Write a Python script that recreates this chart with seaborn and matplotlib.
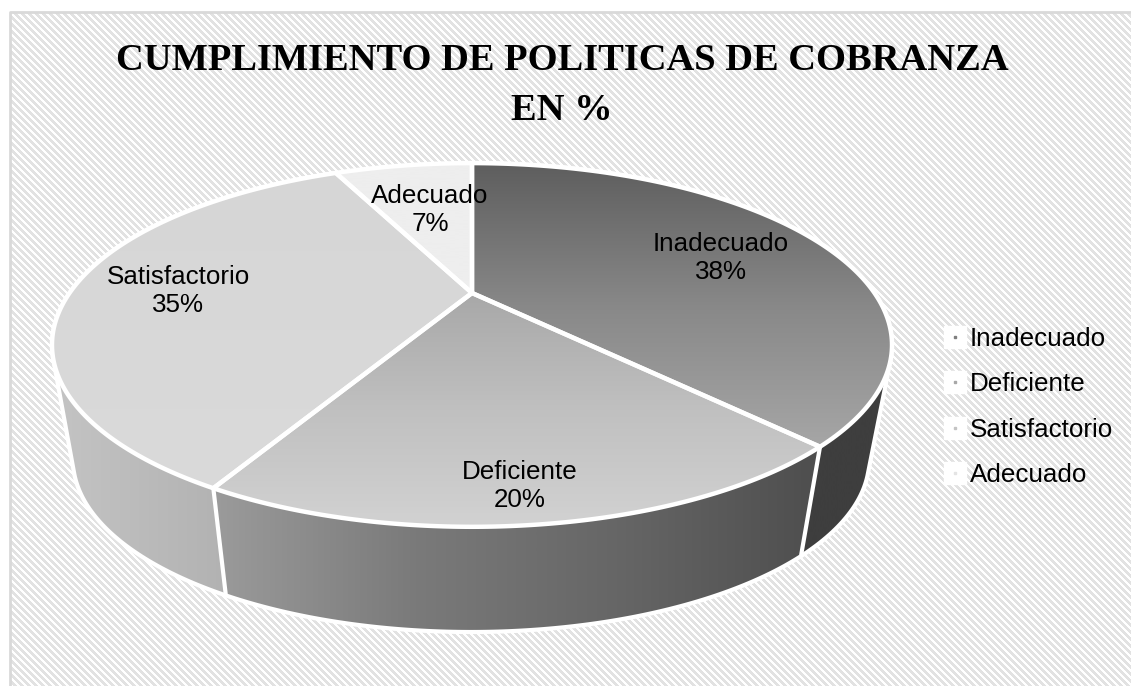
import numpy as np
import seaborn as sns
import matplotlib
matplotlib.use("Agg")
import matplotlib.pyplot as plt
from matplotlib.path import Path
from matplotlib.patches import PathPatch
from matplotlib.lines import Line2D
from matplotlib.legend_handler import HandlerTuple

# Chart data
categories = ["Inadecuado", "Deficiente", "Satisfactorio", "Adecuado"]
percentages = [38, 20, 35, 7]
title_lines = ["CUMPLIMIENTO DE POLITICAS DE COBRANZA", "EN %"]

# Grey ramps for the upper faces, running top to bottom
top_shades = [
    ["#5e5e5e", "#888888", "#a6a6a6"],
    ["#a8a8a8", "#c0c0c0", "#d2d2d2"],
    ["#d6d6d6", "#d8d8d8", "#dadada"],
    ["#eeeeee", "#eeeeee", "#eeeeee"],
]
# Grey ramps for the outer wall, running left to right
side_shades = {
    0: ["#3e3e3e", "#3e3e3e"],
    1: ["#9b9b9b", "#7a7a7a", "#666666", "#4e4e4e"],
    2: ["#c4c4c4", "#a6a6a6"],
}
legend_dots = ["#7f7f7f", "#a8a8a8", "#c4c4c4", "#e4e4e4"]
label_centres = [(721, 258), (520, 486), (178, 291), (430, 210)]

sns.set_theme(style="white")
plt.rcParams["font.family"] = ["Liberation Sans", "DejaVu Sans"]

W, H = 1131, 686
fig = plt.figure(figsize=(W / 100, H / 100), dpi=100, facecolor="white")
ax = fig.add_axes([0, 0, 1, 1])
ax.set_axis_off()

# Striped chart area with a border along the top and left
xx, yy = np.meshgrid(np.arange(W), np.arange(H))
stripes = ((xx - yy) % 7 < 4).astype(float)
stripes[:12, :] = 0
stripes[:, :10] = 0
ax.imshow(stripes, cmap=sns.blend_palette(["#ffffff", "#e2e2e2"], as_cmap=True),
          extent=(0, W, H, 0), interpolation="nearest", aspect="auto", zorder=0)
ax.plot([10, 10, W], [H, 12, 12], color="#d9d9d9", lw=2.0, zorder=1, solid_capstyle="butt")

# Perspective view of the disc
CX, CY = 472.0, 293.0
SCALE_X, SCALE_Y, KEYSTONE = 402.5, 167.0, 0.2857
VANISH = np.array([454.0, 2550.0])
FOOT = 0.948


def rim(deg):
    a = np.radians(deg)
    u, v = np.sin(a), np.cos(a)
    w = 1 + KEYSTONE * v
    return np.column_stack([CX + SCALE_X * u / w, CY - SCALE_Y * v / w])


def foot(deg):
    return VANISH + (rim(deg) - VANISH) * FOOT


def hull(points):
    pts = sorted(map(tuple, points))
    def half(seq):
        out = []
        for p in seq:
            while len(out) > 1 and ((out[-1][0] - out[-2][0]) * (p[1] - out[-2][1])
                                    - (out[-1][1] - out[-2][1]) * (p[0] - out[-2][0])) <= 0:
                out.pop()
            out.append(p)
        return out
    lower, upper = half(pts), half(pts[::-1])
    return np.array(lower[:-1] + upper[:-1])


def closed(poly):
    return Path(np.vstack([poly, poly[0]]), closed=True)


def shaded(path, greys, axis, lo, hi, z):
    """Fill a path with a grey ramp along one screen axis between lo and hi."""
    ramp = (np.linspace(0, 1, W)[None, :] if axis == "x" else np.linspace(0, 1, H)[:, None])
    extent = (lo, hi, H, 0) if axis == "x" else (0, W, hi, lo)
    im = ax.imshow(ramp, cmap=sns.blend_palette(greys, as_cmap=True), extent=extent,
                   aspect="auto", zorder=z, vmin=0, vmax=1)
    im.set_clip_path(PathPatch(path, transform=ax.transData))
    return im


edges = np.concatenate([[0], np.cumsum(percentages)]) * 3.6
WHITE = dict(fc="none", ec="white", joinstyle="round")

# Outer wall, back to front
for z, i in zip((3, 4, 5), (0, 2, 1)):
    a = np.linspace(edges[i], edges[i + 1], 160)
    poly = hull(np.vstack([rim(a), foot(a)]))
    path = closed(poly)
    lo, hi = poly[:, 0].min(), poly[:, 0].max()
    shaded(path, side_shades[i], "x", lo, hi, z)
    ax.add_patch(PathPatch(path, lw=3.0, zorder=z + 0.5, **WHITE))

# Upper faces
for i in range(len(percentages)):
    a = np.linspace(edges[i], edges[i + 1], 160)
    poly = np.vstack([[[CX, CY]], rim(a)])
    path = closed(poly)
    shaded(path, top_shades[i], "y", poly[:, 1].min(), poly[:, 1].max(), 7)
    ax.add_patch(PathPatch(path, lw=3.2, zorder=8, **WHITE))

# Value labels
for name, pct, (x, y) in zip(categories, percentages, label_centres):
    ax.text(x, y, f"{name}\n{pct}%", ha="center", va="center", fontsize=18.7,
            color="black", linespacing=1.25, zorder=10)

# Title
for line, y in zip(title_lines, (61, 111)):
    ax.text(562, y, line, ha="center", va="center", family="Liberation Serif",
            fontweight="bold", fontsize=27.7, color="black", zorder=10)

# Legend: white swatch with a small dot in the slice grey
handles = [(Line2D([], [], ls="", marker="s", ms=16, mfc="white", mec="white"),
            Line2D([], [], ls="", marker="s", ms=1.6, mfc=c, mec=c)) for c in legend_dots]
ax.legend(handles, categories, handler_map={tuple: HandlerTuple(ndivide=1, pad=0)},
          loc="center left", bbox_to_anchor=(941, 407), bbox_transform=ax.transData,
          frameon=False, fontsize=18.7, labelspacing=0.83, handlelength=1.1,
          handletextpad=0.0, borderpad=0, borderaxespad=0, labelcolor="black")

ax.set_xlim(0, W)
ax.set_ylim(H, 0)
fig.savefig("out.png", dpi=100, facecolor="white")
